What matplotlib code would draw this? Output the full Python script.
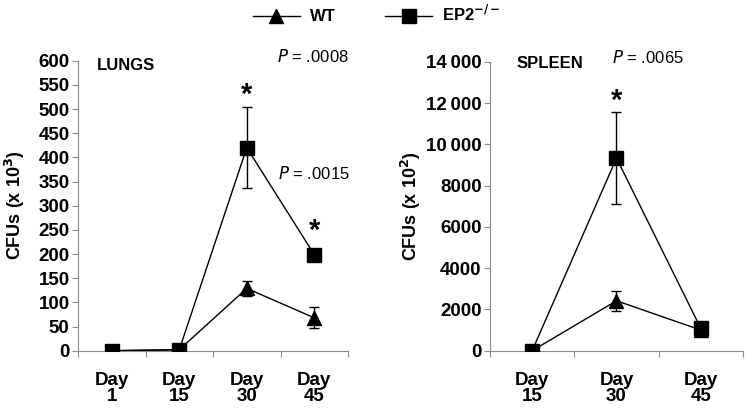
import matplotlib

matplotlib.use("Agg")
import matplotlib.pyplot as plt
from matplotlib.lines import Line2D

plt.rcParams["font.family"] = ["Liberation Sans", "DejaVu Sans"]

# lungs (CFUs x 10^3)
lung_days = ["Day\n1", "Day\n15", "Day\n30", "Day\n45"]
lung_wt = [0, 2, 129, 68]
lung_wt_err = [0, 0, 15, 22]
lung_ep2 = [0, 2, 420, 199]
lung_ep2_err = [0, 0, 84, 0]

# spleen (CFUs x 10^2)
spleen_days = ["Day\n15", "Day\n30", "Day\n45"]
spleen_wt = [0, 2420, 1000]
spleen_wt_err = [0, 480, 0]
spleen_ep2 = [0, 9330, 1080]
spleen_ep2_err = [0, 2230, 0]

GRAY = "#8c8c8c"


def panel(ax, days, wt, wt_err, ep2, ep2_err, ymax, step, ticklabels):
    x = list(range(len(days)))
    ax.errorbar(x, ep2, yerr=ep2_err, color="black", lw=1, marker="s", ms=10,
                capsize=3.5, elinewidth=1, capthick=1, zorder=3)
    ax.errorbar(x, wt, yerr=wt_err, color="black", lw=1, marker="^", ms=10.5,
                capsize=3.5, elinewidth=1, capthick=1, zorder=3)
    ax.set_xlim(-0.5, len(days) - 0.5)
    ax.set_ylim(0, ymax)
    ax.set_yticks(range(0, ymax + 1, step))
    ax.set_yticklabels(ticklabels, fontsize=13.5, fontweight="bold")
    ax.set_xticks([i - 0.5 for i in range(len(days) + 1)], minor=False)
    ax.set_xticklabels([])
    ax.set_xticks(x, minor=True)
    ax.set_xticklabels(days, minor=True, fontsize=13.5, fontweight="bold", linespacing=0.97)
    ax.tick_params(axis="x", which="minor", length=0, pad=15)
    ax.tick_params(axis="x", which="major", length=4, color=GRAY, direction="out")
    ax.tick_params(axis="y", length=4, color=GRAY, pad=2)
    for s in ["top", "right"]:
        ax.spines[s].set_visible(False)
    for s in ["left", "bottom"]:
        ax.spines[s].set_color(GRAY)
        ax.spines[s].set_linewidth(0.8)
    ax.patch.set_visible(False)


fig = plt.figure(figsize=(7.46, 4.09), dpi=100)

ax1 = fig.add_axes([0.1046, 0.1425, 0.3619, 0.709])
lung_ticks = [str(v) for v in range(0, 601, 50)]
panel(ax1, lung_days, lung_wt, lung_wt_err, lung_ep2, lung_ep2_err, 600, 50, lung_ticks)
ax1.set_ylabel("CFUs (x 10$^{\\mathbf{3}}$)", fontsize=13, fontweight="bold", labelpad=8)
ax1.text(-0.22, 590, "LUNGS", fontsize=12, fontweight="bold", va="center")
ax1.text(3.52, 608, "$\\it{P}$ = .0008", fontsize=12, ha="right", va="center")
ax1.text(3.52, 366, "$\\it{P}$ = .0015", fontsize=12, ha="right", va="center")
ax1.text(2, 530, "*", fontsize=21, fontweight="bold", ha="center", va="center")
ax1.text(3, 248, "*", fontsize=21, fontweight="bold", ha="center", va="center")

ax2 = fig.add_axes([0.6568, 0.1425, 0.3392, 0.7065])
spleen_ticks = ["0", "2000", "4000", "6000", "8000", "10\u2009000", "12\u2009000", "14\u2009000"]
panel(ax2, spleen_days, spleen_wt, spleen_wt_err, spleen_ep2, spleen_ep2_err, 14000, 2000, spleen_ticks)
ax2.set_ylabel("CFUs (x 10$^{\\mathbf{2}}$)", fontsize=13, fontweight="bold", labelpad=2)
ax2.text(-0.19, 13900, "SPLEEN", fontsize=12, fontweight="bold", va="center")
ax2.text(0.95, 14200, "$\\it{P}$ = .0065", fontsize=12, ha="left", va="center")
ax2.text(1, 12100, "*", fontsize=21, fontweight="bold", ha="center", va="center")

handles = [
    Line2D([], [], color="black", lw=1, marker="^", ms=10.5),
    Line2D([], [], color="black", lw=1, marker="s", ms=10),
]
fig.legend(handles, ["WT", "EP2$^{\\mathbf{-/-}}$"], loc="center", bbox_to_anchor=(0.505, 0.965),
           ncol=2, frameon=False, handlelength=2.8, handletextpad=0.6, columnspacing=3.0,
           prop={"weight": "bold", "size": 12})

fig.savefig("out.png", dpi=100)
